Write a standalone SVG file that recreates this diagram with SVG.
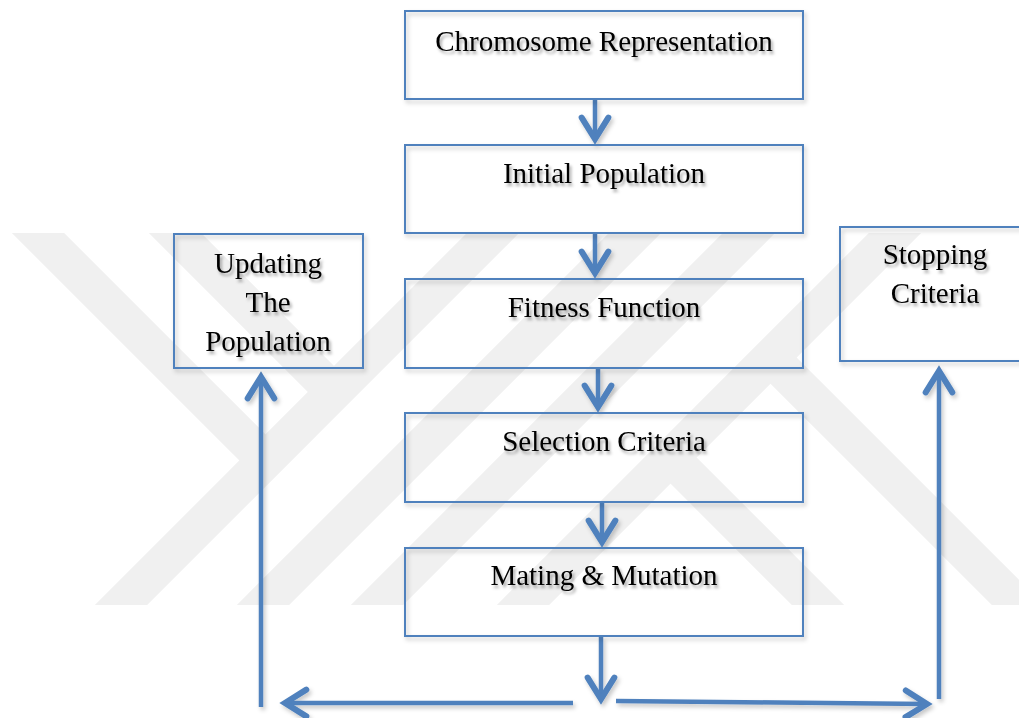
<svg xmlns="http://www.w3.org/2000/svg" width="1019" height="718" viewBox="0 0 1019 718">
  <style>
    .box { fill: none; stroke: #4F81BD; stroke-width: 2; }
    .lbl { font-family: "Liberation Serif", "Times New Roman", serif; font-size: 29px; fill: #000; text-anchor: middle; }
    .conn { fill: none; stroke: #4F81BD; stroke-width: 4.5; stroke-linecap: butt; }
    .wm { stroke: #f0f0f0; stroke-width: 37; fill: none; }
  </style>
  <defs>
    <marker id="ah" markerUnits="userSpaceOnUse" markerWidth="40" markerHeight="40" viewBox="-22 -14 30 28" refX="0" refY="0" orient="auto" overflow="visible">
      <path d="M-16,-10 L0,0 L-16,10" fill="none" stroke="#4F81BD" stroke-width="4.5" stroke-linejoin="miter" stroke-linecap="round"/>
    </marker>
    <filter id="tsh" x="-10%" y="-30%" width="130%" height="170%">
      <feDropShadow dx="2" dy="3" stdDeviation="1.8" flood-color="#000" flood-opacity="0.35"/>
    </filter>
    <filter id="bsh" x="-5%" y="-5%" width="115%" height="120%">
      <feDropShadow dx="2" dy="3" stdDeviation="2" flood-color="#000" flood-opacity="0.22"/>
    </filter>
    <clipPath id="wmclip">
      <rect x="0" y="233" width="1019" height="372"/>
    </clipPath>
  </defs>

  <rect x="0" y="0" width="1019" height="718" fill="#ffffff"/>

  <g id="watermark" clip-path="url(#wmclip)">
    <line class="wm" x1="576" y1="150" x2="26" y2="700"/>
    <line class="wm" x1="718" y1="150" x2="168" y2="700"/>
    <line class="wm" x1="832" y1="150" x2="282" y2="700"/>
    <line class="wm" x1="978" y1="150" x2="428" y2="700"/>
    <line class="wm" x1="5" y1="200" x2="265.5" y2="460.5"/>
    <line class="wm" x1="142" y1="200" x2="334" y2="392"/>
    <line class="wm" x1="670.5" y1="457.5" x2="900" y2="687"/>
    <line class="wm" x1="770.5" y1="357.5" x2="1100" y2="687"/>
  </g>

  <g id="connectors" filter="url(#bsh)">
    <line class="conn" x1="595" y1="100" x2="595" y2="139" marker-end="url(#ah)"/>
    <line class="conn" x1="595" y1="234" x2="595" y2="273" marker-end="url(#ah)"/>
    <line class="conn" x1="598" y1="369" x2="598" y2="407" marker-end="url(#ah)"/>
    <line class="conn" x1="602" y1="503" x2="602" y2="542" marker-end="url(#ah)"/>
    <line class="conn" x1="601" y1="637" x2="601" y2="699" marker-end="url(#ah)"/>
    <line class="conn" x1="573" y1="703" x2="285" y2="703" marker-end="url(#ah)"/>
    <line class="conn" x1="616" y1="701" x2="927" y2="704" marker-end="url(#ah)"/>
    <line class="conn" x1="261" y1="707" x2="261" y2="377" marker-end="url(#ah)"/>
    <line class="conn" x1="939" y1="699" x2="939" y2="371" marker-end="url(#ah)"/>
  </g>

  <g id="n-chromosome">
    <rect class="box" x="405" y="11" width="398" height="88" filter="url(#bsh)"/>
    <text class="lbl" x="604" y="51" filter="url(#tsh)">Chromosome Representation</text>
  </g>
  <g id="n-initial">
    <rect class="box" x="405" y="145" width="398" height="88" filter="url(#bsh)"/>
    <text class="lbl" x="604" y="183" filter="url(#tsh)">Initial Population</text>
  </g>
  <g id="n-fitness">
    <rect class="box" x="405" y="279" width="398" height="89" filter="url(#bsh)"/>
    <text class="lbl" x="604" y="317" filter="url(#tsh)">Fitness Function</text>
  </g>
  <g id="n-selection">
    <rect class="box" x="405" y="413" width="398" height="89" filter="url(#bsh)"/>
    <text class="lbl" x="604" y="451" filter="url(#tsh)">Selection Criteria</text>
  </g>
  <g id="n-mating">
    <rect class="box" x="405" y="548" width="398" height="88" filter="url(#bsh)"/>
    <text class="lbl" x="604" y="585" filter="url(#tsh)">Mating &amp; Mutation</text>
  </g>
  <g id="n-updating">
    <rect class="box" x="174" y="234" width="189" height="134" filter="url(#bsh)"/>
    <text class="lbl" x="268" y="273" filter="url(#tsh)">Updating</text>
    <text class="lbl" x="268" y="312" filter="url(#tsh)">The</text>
    <text class="lbl" x="268" y="351" filter="url(#tsh)">Population</text>
  </g>
  <g id="n-stopping">
    <rect class="box" x="840" y="227" width="190" height="134" filter="url(#bsh)"/>
    <text class="lbl" x="935" y="264" filter="url(#tsh)">Stopping</text>
    <text class="lbl" x="935" y="303" filter="url(#tsh)">Criteria</text>
  </g>
</svg>
